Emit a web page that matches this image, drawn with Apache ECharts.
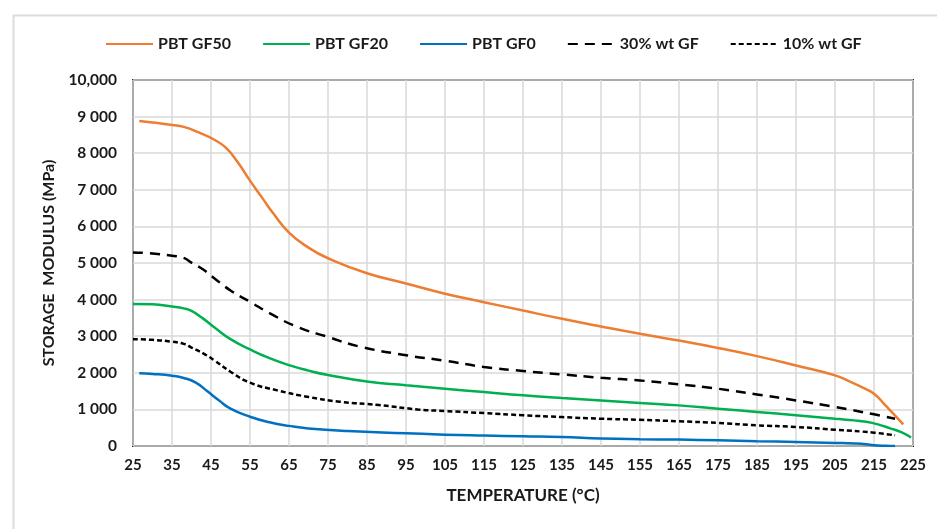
<!DOCTYPE html>
<html>
<head>
<meta charset="utf-8">
<script src="https://cdn.jsdelivr.net/npm/echarts@6/dist/echarts.min.js"></script>
<style>
html,body{margin:0;padding:0;background:#fff;}
#chart{width:937px;height:529px;}
</style>
</head>
<body>
<div id="chart"></div>
<script>
// Tick labels
const xTickLabels = [25,35,45,55,65,75,85,95,105,115,125,135,145,155,165,175,185,195,205,215,225];
const yTickLabels = ['0','1 000','2 000','3 000','4 000','5 000','6 000','7 000','8 000','9 000','10,000'];

// PBT GF50
const gf50T = [26.6, 30, 35, 38, 42, 46, 49, 52, 55, 58, 61, 65, 70, 75, 85, 95, 105, 115, 125, 135, 145, 155, 165, 175, 185, 195, 205, 209, 212, 215, 218, 220, 222.5];
const gf50V = [8880, 8840, 8770, 8720, 8560, 8360, 8130, 7730, 7250, 6800, 6350, 5830, 5420, 5130, 4720, 4440, 4160, 3930, 3700, 3475, 3265, 3065, 2880, 2680, 2455, 2200, 1930, 1750, 1600, 1430, 1100, 880, 590];

// PBT GF20
const gf20T = [25, 30, 35, 38, 40, 43, 46, 50, 55, 60, 65, 70, 75, 85, 95, 105, 115, 125, 135, 145, 155, 165, 175, 185, 195, 205, 210, 213, 216, 219, 222, 224.5];
const gf20V = [3880, 3870, 3810, 3760, 3690, 3480, 3230, 2920, 2640, 2400, 2210, 2060, 1940, 1760, 1660, 1565, 1475, 1385, 1310, 1245, 1175, 1110, 1020, 930, 840, 745, 700, 660, 590, 490, 380, 230];

// PBT GF0
const gf0T = [26.6, 30, 35, 38, 41, 44, 47, 50, 55, 60, 65, 70, 80, 95, 105, 115, 125, 135, 145, 155, 165, 175, 185, 195, 205, 210, 213, 215, 218, 220.4];
const gf0V = [1990, 1970, 1920, 1860, 1740, 1500, 1250, 1020, 800, 650, 550, 480, 410, 350, 310, 285, 265, 245, 205, 185, 175, 155, 130, 110, 85, 70, 50, 20, 5, 0];

// 30% wt GF
const wt30T = [25, 30, 35, 38, 40, 43, 46, 50, 55, 60, 67, 75, 83, 95, 105, 115, 125, 135, 145, 155, 165, 175, 185, 195, 205, 215, 220.4];
const wt30V = [5290, 5260, 5200, 5140, 5010, 4820, 4570, 4250, 3940, 3630, 3260, 2980, 2720, 2480, 2330, 2160, 2050, 1955, 1865, 1790, 1685, 1565, 1410, 1245, 1065, 865, 745];

// 10% wt GF
const wt10T = [25, 30, 35, 38, 40, 43, 46, 50, 55, 62, 70, 78, 88, 98, 105, 115, 125, 135, 145, 155, 165, 175, 185, 195, 205, 215, 220.4];
const wt10V = [2920, 2900, 2850, 2790, 2690, 2530, 2330, 2030, 1730, 1520, 1340, 1210, 1120, 1000, 955, 900, 840, 790, 745, 715, 675, 630, 565, 520, 445, 365, 290];

const X0 = xTickLabels[0];
function pts(T, V){ return T.map((t,i)=>[t - X0, V[i]]); }

const font = 'Lato, "Open Sans", sans-serif';
const txt = '#1a1a1a';

function lineSeries(name, T, V, color, width, dash){
  return {name, type: 'line', data: pts(T, V), showSymbol: false, symbol: 'none', smooth: 0.5,
    itemStyle: {color}, lineStyle: {color, width, type: dash || 'solid'}};
}

const chart = echarts.init(document.getElementById('chart'), null, {renderer:'canvas'});
const option = {
  animation: false,
  backgroundColor: '#fff',
  graphic: [{
    type: 'rect', left: 11, top: 13,
    shape: {width: 940, height: 530},
    style: {fill: 'none', stroke: '#dcdcdc', lineWidth: 2},
    silent: true
  }],
  legend: {
    top: 31, left: 100,
    itemWidth: 47, itemHeight: 10, itemGap: 31,
    itemStyle: {opacity: 0},
    textStyle: {fontFamily: font, fontWeight: 'bold', fontSize: 16, color: txt},
    data: ['PBT GF50','PBT GF20','PBT GF0','30% wt GF','10% wt GF']
  },
  grid: {left: 133, right: 24, top: 80, bottom: 83, show: true, borderColor: '#222', borderWidth: 2, backgroundColor: 'transparent'},
  xAxis: {
    type: 'value', min: 0, max: xTickLabels[xTickLabels.length-1] - X0, interval: 10,
    name: 'TEMPERATURE (°C)', nameLocation: 'middle', nameGap: 41,
    nameTextStyle: {fontFamily: font, fontWeight: 'bold', fontSize: 17, color: txt},
    axisLine: {show: false}, axisTick: {show: false},
    axisLabel: {formatter: v => String(v + X0), fontFamily: font, fontWeight: 'bold', fontSize: 15, color: txt, margin: 12},
    splitLine: {show: true, lineStyle: {color: '#d9d9d9', width: 1.5}}
  },
  yAxis: {
    type: 'value', min: 0, max: 10000, interval: 1000,
    name: 'STORAGE  MODULUS (MPa)', nameLocation: 'middle', nameGap: 76,
    nameTextStyle: {fontFamily: font, fontWeight: 'bold', fontSize: 16, color: txt},
    axisLine: {show: false}, axisTick: {show: false},
    axisLabel: {formatter: v => yTickLabels[Math.round(v/1000)], fontFamily: font, fontWeight: 'bold', fontSize: 15.5, color: txt, margin: 16},
    splitLine: {show: true, lineStyle: {color: '#d9d9d9', width: 1.5}}
  },
  series: [
    lineSeries('PBT GF50', gf50T, gf50V, '#ED7D31', 2.5),
    lineSeries('PBT GF20', gf20T, gf20V, '#00B050', 2.5),
    lineSeries('PBT GF0', gf0T, gf0V, '#0070C0', 2.5),
    lineSeries('30% wt GF', wt30T, wt30V, '#000000', 2.5, [10, 7]),
    lineSeries('10% wt GF', wt10T, wt10V, '#000000', 2.5, [5, 3])
  ]
};
chart.setOption(option);
</script>
</body>
</html>
